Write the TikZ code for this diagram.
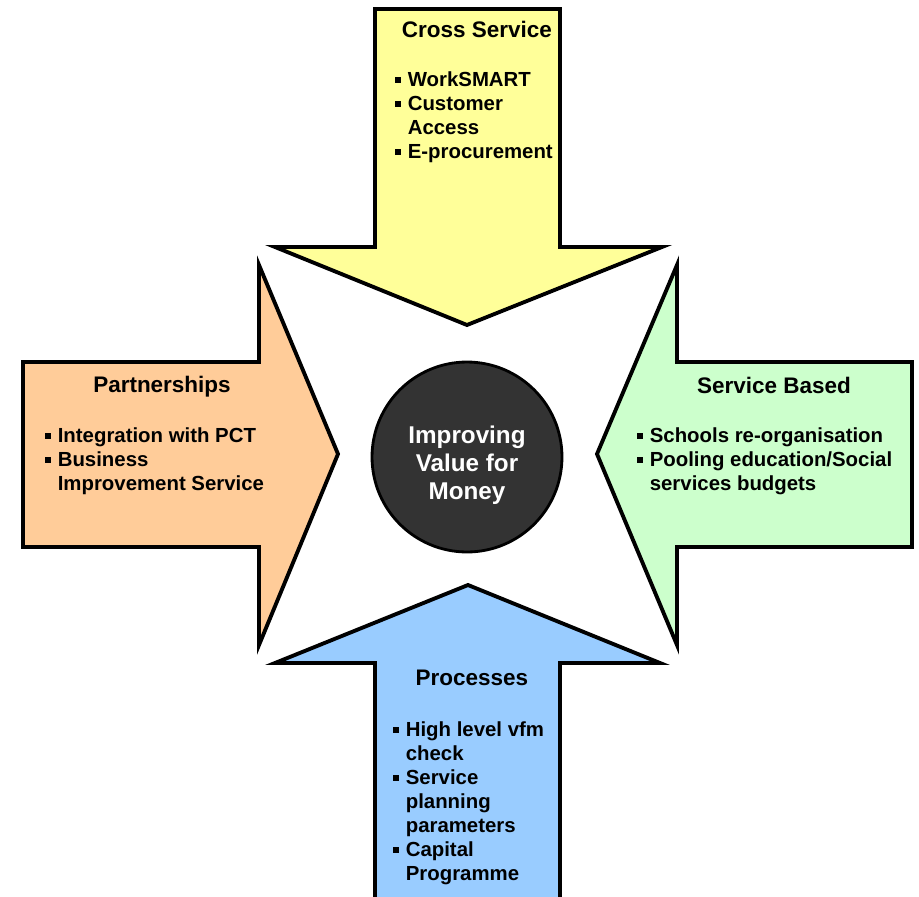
\documentclass[tikz,border=0pt]{standalone}
\usepackage{fontspec}
\setmainfont{Liberation Sans}
\usetikzlibrary{positioning}
\definecolor{crossyellow}{HTML}{FFFF99}
\definecolor{partorange}{HTML}{FFCC99}
\definecolor{servgreen}{HTML}{CCFFCC}
\definecolor{procblue}{HTML}{99CCFF}
\definecolor{hubgrey}{HTML}{333333}
\newcommand{\bul}{\makebox[7.1pt][l]{\rule[1.9pt]{3.2pt}{3.2pt}}}
\newcommand{\ind}{\hspace*{7.1pt}}

\begin{document}
\begin{tikzpicture}[x=0.02cm, y=-0.02cm,
    bigarrow/.style={draw=black, line width=2.2pt, miter limit=12},
    heading/.style={font=\bfseries\fontsize{12.8}{15}\selectfont, inner sep=0pt, anchor=base},
    items/.style={font=\bfseries\fontsize{11.6}{13.66}\selectfont, align=left, inner sep=0pt, anchor=north west},
    hub/.style={circle, draw=black, line width=1.6pt, fill=hubgrey, minimum size=3.8cm, inner sep=0pt},
    hubtext/.style={text=white, align=center, inner sep=0pt, font=\bfseries\fontsize{13.8}{15.9}\selectfont}]
      \clip (0,0) rectangle (919,896);

      % Arrows
      \draw[bigarrow, fill=crossyellow] (375,9) -- (560,9) -- (560,247) -- (662,247)
        -- (467,325) -- (275,247) -- (375,247) -- cycle;
      \draw[bigarrow, fill=partorange] (23,362) -- (259,362) -- (259,265) -- (338,454)
        -- (259,645) -- (259,547) -- (23,547) -- cycle;
      \draw[bigarrow, fill=servgreen] (912,362) -- (677,362) -- (677,265) -- (597,454)
        -- (677,645) -- (677,547) -- (912,547) -- cycle;
      \draw[bigarrow, fill=procblue] (375,910) -- (375,663) -- (275,663) -- (468,585)
        -- (660,663) -- (560,663) -- (560,910);

      % Centre
      \node[hub] (hub) at (467,457) {};
      \node[hubtext] (hubtext) at ([yshift=-4.5pt]hub.center) {Improving\\Value for\\Money};

      % Headings
      \node[heading] (crosstitle) at (477,37) {Cross Service};
      \node[heading] (parttitle) at (162,392) {Partnerships};
      \node[heading] (servtitle) at (774,393) {Service Based};
      \node[heading] (proctitle) at (472,685) {Processes};

      % Items
      \node[items] (crossitems) at (395,71)
        {\bul WorkSMART\\ \bul Customer\\ \ind Access\\ \bul E-procurement};
      \node[items] (partitems) at (45,427)
        {\bul Integration with PCT\\ \bul Business\\ \ind Improvement Service};
      \node[items] (servitems) at (637,427)
        {\bul Schools re-organisation\\ \bul Pooling education/Social\\ \ind services budgets};
      \node[items] (procitems) at (393,721)
        {\bul High level vfm\\ \ind check\\ \bul Service\\ \ind planning\\ \ind parameters\\
         \bul Capital\\ \ind Programme};
    \end{tikzpicture}
\end{document}
